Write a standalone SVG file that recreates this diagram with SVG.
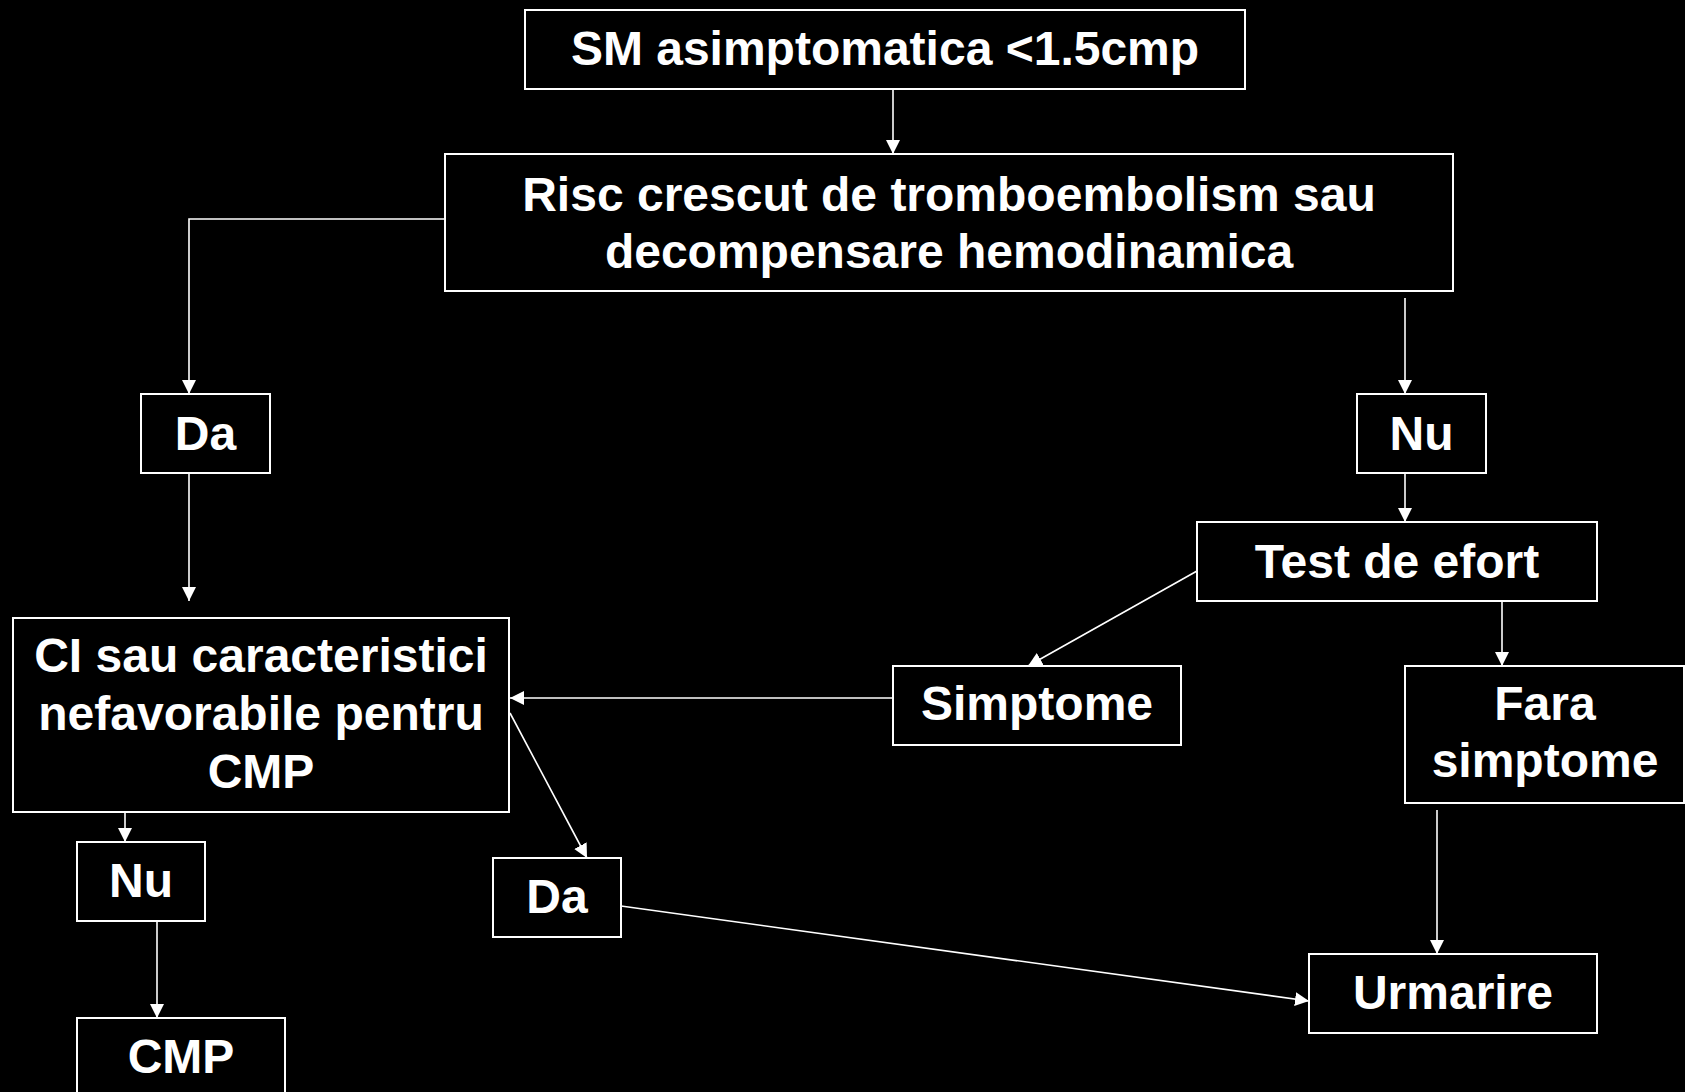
<svg xmlns="http://www.w3.org/2000/svg" width="1685" height="1092" viewBox="0 0 1685 1092">
<defs>
<marker id="arr" markerUnits="userSpaceOnUse" markerWidth="15" markerHeight="15" refX="14" refY="7" orient="auto">
<path d="M0,0 L14,7 L0,14 z" fill="#fff"/>
</marker>
<style>
.box{fill:#000;stroke:#fff;stroke-width:2}
.t{fill:#fff;font-family:"Liberation Sans",Arial,sans-serif;font-weight:bold;font-size:48px;text-anchor:middle}
.c{fill:none;stroke:#fff;stroke-width:1.6;marker-end:url(#arr)}
</style>
</defs>
<rect width="1685" height="1092" fill="#000"/>
<g id="connectors">
<path class="c" d="M893,89 L893,154"/>
<path class="c" d="M445,219 L189,219 L189,394"/>
<path class="c" d="M1405,298 L1405,394"/>
<path class="c" d="M189,473 L189,601"/>
<path class="c" d="M1405,473 L1405,522"/>
<path class="c" d="M1197,571 L1028,666"/>
<path class="c" d="M1502,601 L1502,666"/>
<path class="c" d="M893,698 L510,698"/>
<path class="c" d="M510,713 L587,858"/>
<path class="c" d="M125,811 L125,842"/>
<path class="c" d="M157,921 L157,1018"/>
<path class="c" d="M1437,810 L1437,954"/>
<path class="c" d="M621,906 L1309,1001"/>
</g>
<g id="n1"><rect class="box" x="525" y="10" width="720" height="79"/><text class="t" x="885" y="65">SM asimptomatica &lt;1.5cmp</text></g>
<g id="n2"><rect class="box" x="445" y="154" width="1008" height="137"/><text class="t" x="949" y="211">Risc crescut de tromboembolism sau</text><text class="t" x="949" y="268">decompensare hemodinamica</text></g>
<g id="n3"><rect class="box" x="141" y="394" width="129" height="79"/><text class="t" x="205.5" y="450">Da</text></g>
<g id="n4"><rect class="box" x="1357" y="394" width="129" height="79"/><text class="t" x="1421.5" y="450">Nu</text></g>
<g id="n5"><rect class="box" x="1197" y="522" width="400" height="79"/><text class="t" x="1397" y="578">Test de efort</text></g>
<g id="n6"><rect class="box" x="13" y="618" width="496" height="194"/><text class="t" x="261" y="672">CI sau caracteristici</text><text class="t" x="261" y="730">nefavorabile pentru</text><text class="t" x="261" y="788">CMP</text></g>
<g id="n7"><rect class="box" x="893" y="666" width="288" height="79"/><text class="t" x="1037" y="720">Simptome</text></g>
<g id="n8"><rect class="box" x="1405" y="666" width="279" height="137"/><text class="t" x="1545" y="720">Fara</text><text class="t" x="1545" y="777">simptome</text></g>
<g id="n9"><rect class="box" x="77" y="842" width="128" height="79"/><text class="t" x="141" y="897">Nu</text></g>
<g id="n10"><rect class="box" x="493" y="858" width="128" height="79"/><text class="t" x="557" y="913">Da</text></g>
<g id="n11"><rect class="box" x="1309" y="954" width="288" height="79"/><text class="t" x="1453" y="1009">Urmarire</text></g>
<g id="n12"><rect class="box" x="77" y="1018" width="208" height="90"/><text class="t" x="181" y="1073">CMP</text></g>
</svg>
